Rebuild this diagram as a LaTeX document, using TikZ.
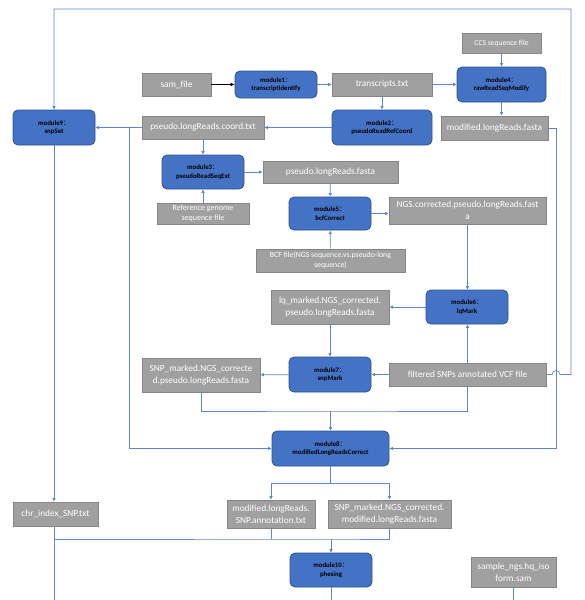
\documentclass[tikz,border=0pt]{standalone}
\usepackage{fontspec}
\setmainfont{Carlito}
\newfontfamily\cjk{Noto Sans CJK SC}
\usetikzlibrary{arrows.meta}
\definecolor{lnc}{HTML}{5B87D0}
\definecolor{gfill}{HTML}{A0A0A0}
\definecolor{gdraw}{HTML}{858585}
\definecolor{mfill}{HTML}{4472C4}
\definecolor{mdraw}{HTML}{2F528F}
\tikzset{
  gbox/.style={draw=gdraw, fill=gfill, line width=0.8pt, text=white, inner sep=0pt, align=center,
    font=\fontsize{9.3}{12}\selectfont},
  mbox/.style={draw=mdraw, fill=mfill, line width=0.8pt, rounded corners=5pt, text=black, inner sep=0pt, align=center,
    font=\fontsize{6.8}{8.5}\selectfont\bfseries},
  conn/.style={draw=lnc, line width=0.7pt},
  arr/.style={conn, -{Latex[length=3.5pt,width=3.5pt]}},
  blk/.style={draw=black, line width=0.8pt, -{Latex[length=4pt,width=4pt]}}
}
\newcommand{\mcolon}{{\cjk\mdseries ：}}
\begin{document}
\begin{tikzpicture}[x=1pt,y=-1pt]
\useasboundingbox (0,0) rectangle (584,600);
% nodes
\node[gbox, minimum width=69pt, minimum height=23pt] (sam) at (176.5,84.5) {sam\_file};
\node[mbox, minimum width=82pt, minimum height=27pt] (m1) at (276,84.5) {module1\mcolon\\transcriptIdentify};
\node[gbox, minimum width=100pt, minimum height=23pt] (trans) at (382,84.5) {transcripts.txt};
\node[mbox, minimum width=89pt, minimum height=35pt] (m4) at (501.5,84.5) {module4\mcolon\\rawReadSeqModify};
\node[gbox, minimum width=79pt, minimum height=20pt, font=\fontsize{7.6}{9}\selectfont] (ccs) at (501.5,43) {CCS sequence file};
\node[gbox, minimum width=107pt, minimum height=24pt] (modfa) at (494.5,128) {modified.longReads.fasta};
\node[mbox, minimum width=100pt, minimum height=35pt] (m2) at (382,127.5) {module2\mcolon\\pseudoReadRefCoord};
\node[gbox, minimum width=122pt, minimum height=23pt] (coord) at (203,127.5) {pseudo.longReads.coord.txt};
\node[mbox, minimum width=82pt, minimum height=35pt] (m9) at (54,127.5) {module9\mcolon\\snpSet};
\node[mbox, minimum width=82pt, minimum height=34pt] (m3) at (203,172) {module3\mcolon\\pseudoReadSeqExt};
\node[gbox, minimum width=135pt, minimum height=22pt] (pfa) at (330.5,172) {pseudo.longReads.fasta};
\node[gbox, minimum width=92pt, minimum height=21pt, font=\fontsize{8}{10}\selectfont] (ref) at (203,213.5) {Reference genome\\sequence file};
\node[mbox, minimum width=82pt, minimum height=33pt] (m5) at (330,213.5) {module5\mcolon\\bcfCorrect};
\node[gbox, minimum width=157pt, minimum height=27pt] (ngs) at (467.5,210.5) {NGS.corrected.pseudo.longReads.fast\\a};
\node[gbox, minimum width=149pt, minimum height=23pt, font=\fontsize{7.8}{10}\selectfont] (bcf) at (330.5,260.5) {BCF file(NGS sequence.vs.pseudo-long\\sequence)};
\node[gbox, minimum width=118pt, minimum height=34pt] (lq) at (330,307) {lq\_marked.NGS\_corrected.\\pseudo.longReads.fasta};
\node[mbox, minimum width=82pt, minimum height=34pt] (m6) at (467,307) {module6\mcolon\\lqMark};
\node[mbox, minimum width=82pt, minimum height=35pt] (m7) at (330,374.5) {module7\mcolon\\snpMark};
\node[gbox, minimum width=157pt, minimum height=23pt] (vcf) at (467.5,374.5) {filtered SNPs annotated VCF file};
\node[gbox, minimum width=118pt, minimum height=34pt] (snpp) at (201,375) {SNP\_marked.NGS\_correcte\\d.pseudo.longReads.fasta};
\node[mbox, minimum width=117pt, minimum height=35pt] (m8) at (330.5,448.5) {module8\mcolon\\modifiedLongReadsCorrect};
\node[gbox, minimum width=85pt, minimum height=24pt] (chr) at (55.5,514) {chr\_index\_SNP.txt};
\node[gbox, minimum width=88pt, minimum height=28pt] (ann) at (271,514) {modified.longReads.\\SNP.annotation.txt};
\node[gbox, minimum width=123pt, minimum height=28pt] (snpm) at (389.5,514) {SNP\_marked.NGS\_corrected.\\modified.longReads.fasta};
\node[mbox, minimum width=82pt, minimum height=34pt] (m10) at (331,570) {module10\mcolon\\phesing};
\node[gbox, minimum width=85pt, minimum height=30pt] (sam2) at (513.5,572) {sample\_ngs.hq\_iso\\form.sam};
% coordinates
\coordinate (br) at (129,127.5);
\coordinate (j1) at (330.5,411);
\coordinate (j2) at (330.5,483);
\coordinate (j3) at (331,539);
\coordinate (e1) at (54,600);
\coordinate (e2) at (331,600);
\coordinate (e3) at (513.5,600);
% connectors
\draw[blk] (sam) -- (m1);
\draw[arr] (m1) -- (trans);
\draw[arr] (trans) -- (m4);
\draw[arr] (trans) -- (m2);
\draw[arr] (ccs) -- (m4);
\draw[arr] (m4.south) -- (m4.south |- modfa.north);
\draw[arr] (m2) -- (coord);
\draw[arr] (coord) -- (m9);
\draw[arr] (br) -- (br |- m8.west) -- (m8.west);
\draw[arr] (coord) -- (m3);
\draw[arr] (m3) -- (pfa);
\draw[arr] (ref) -- (m3);
\draw[arr] (pfa) -- (m5);
\draw[arr] (m5.east) -- (m5.east -| ngs.west);
\draw[arr] (bcf) -- (m5);
\draw[arr] (ngs.south) -- (ngs.south |- m6.north);
\draw[arr] (m6) -- (lq);
\draw[arr] (lq) -- (m7);
\draw[arr] (vcf) -- (m7);
\draw[arr] (vcf.north) -- (vcf.north |- m6.south);
\draw[arr] (m7) -- (snpp);
\draw[conn] (vcf.south) |- (j1) -| (snpp.south);
\draw[arr] (j1) -- (m8);
\draw[arr] (modfa.east) -- ++(8,0) coordinate (mf) -- (mf |- m8.east) -- (m8.east);
\draw[arr] (vcf.east) -- (552,374.5) arc[start angle=180,end angle=0,radius=4pt] -- (571,374.5) -- (571,9) -- (54,9) -- (m9.north);
\draw[arr] (m9.south) -- (m9.south |- chr.north);
\draw[conn] (m8.south) -- (j2);
\draw[arr] (j2) -| (ann.north);
\draw[arr] (j2) -| (snpm.north);
\draw[conn] (chr.south -| e1) -- (e1);
\draw[conn] (e1 |- j3) -- (j3) -| (snpm.south);
\draw[conn] (ann.south) -- (ann.south |- j3);
\draw[arr] (j3) -- (m10);
\draw[conn] (m10) -- (e2);
\draw[conn] (sam2) -- (e3);
\end{tikzpicture}
\end{document}
